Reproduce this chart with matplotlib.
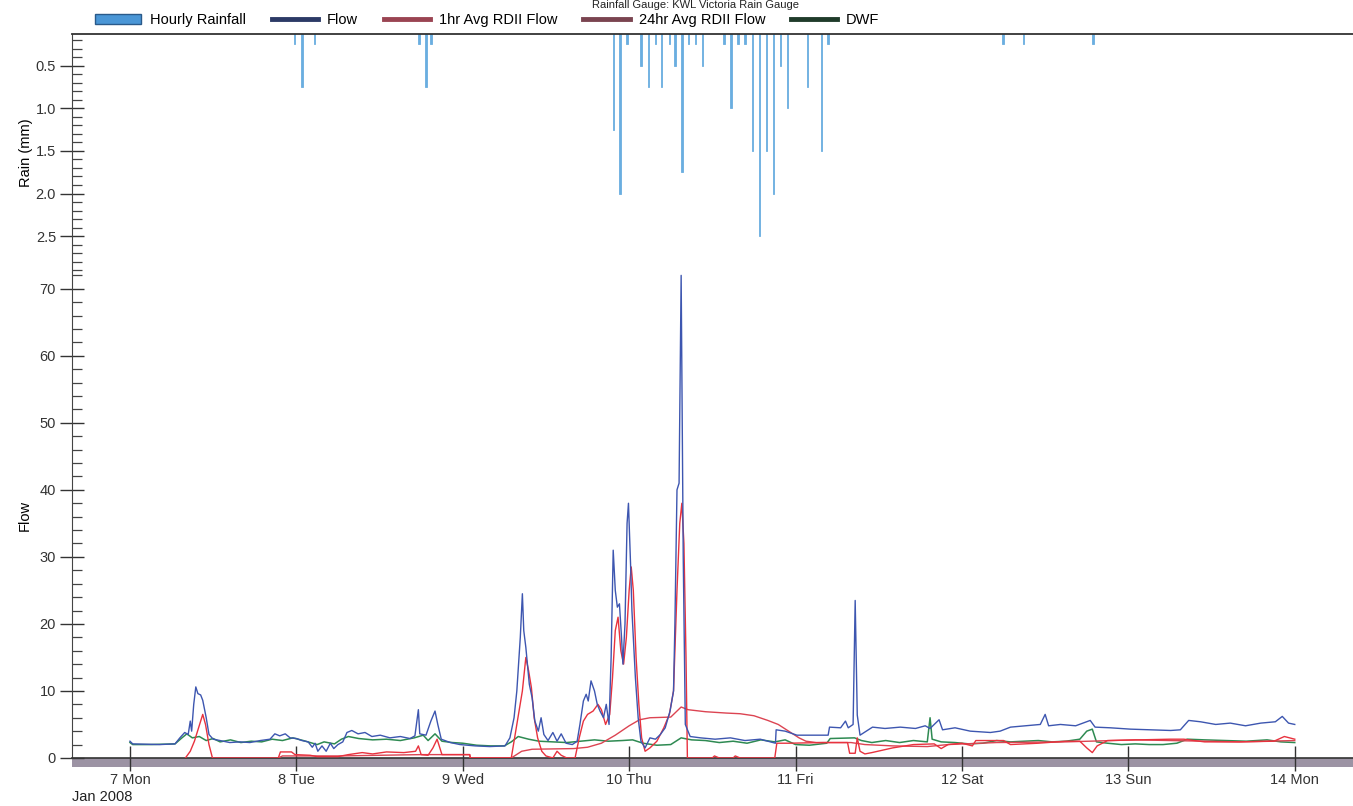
import numpy as np
import matplotlib.pyplot as plt
from matplotlib.patches import Patch, Rectangle
from matplotlib.lines import Line2D
from matplotlib.ticker import MultipleLocator

plt.rcParams['font.family'] = ['Liberation Sans', 'DejaVu Sans']

# time axis: hours since 7 Jan 2008 00:00
day_ticks = [0, 24, 48, 72, 96, 120, 144, 168]
day_labels = ['7 Mon', '8 Tue', '9 Wed', '10 Thu', '11 Fri', '12 Sat', '13 Sun', '14 Mon']

# hourly rainfall (mm)
rain_hours = [23.7, 24.8, 26.6, 41.7, 42.7, 43.4,
              69.7, 70.7, 71.7, 73.7, 74.8, 75.8, 76.7, 77.8, 78.6, 79.6, 80.6,
              81.6, 82.6, 85.7, 86.7, 87.7, 88.7, 89.8, 90.8, 91.8, 92.8, 93.8,
              94.8, 97.7, 99.7, 100.7, 125.9, 128.9, 138.9]
rain_mm = [0.25, 0.75, 0.25, 0.25, 0.75, 0.25,
           1.25, 2.0, 0.25, 0.5, 0.75, 0.25, 0.75, 0.25, 0.5, 1.75, 0.25,
           0.25, 0.5, 0.25, 1.0, 0.25, 0.25, 1.5, 2.5, 1.5, 2.0, 0.5,
           1.0, 0.75, 1.5, 0.25, 0.25, 0.25, 0.25]

flow_t = [0, 0.4, 4.3, 6.5, 7.2, 7.9, 8.4, 8.7, 8.9, 9.2, 9.5, 9.8, 10.2, 10.5, 11.0, 11.4,
          12.0, 13.0, 14.4, 15.9, 17.3, 18.8, 20.2, 20.9, 21.6, 22.4, 23.1, 24.0, 24.8,
          25.7, 26.3, 26.7, 27.1, 27.7, 28.3, 28.9, 29.4, 30.0, 30.7, 31.3, 32.0, 32.9,
          33.9, 34.9, 36.1, 37.5, 39.0, 40.4, 41.1, 41.6, 41.8, 42.7, 43.4, 44.0, 44.4,
          44.9, 46.2, 47.6, 49.8, 51.9, 54.1, 54.8, 55.4, 55.8, 56.3, 56.6, 56.8, 57.1,
          57.6, 58.0, 58.4, 58.9, 59.3, 59.7, 60.3, 61.0, 61.6, 62.2, 62.9, 63.8, 64.5,
          64.9, 65.4, 65.8, 66.1, 66.5, 67.0, 67.4, 67.8, 68.3, 68.7, 69.1, 69.4, 69.7,
          70.0, 70.3, 70.6, 70.9, 71.1, 71.4, 71.7, 71.9, 72.2, 72.4, 72.9, 73.3, 73.7,
          74.3, 75.0, 75.8, 76.5, 77.2, 77.9, 78.4, 78.6, 78.9, 79.2, 79.5, 79.8, 80.1,
          80.8, 82.3, 84.4, 86.6, 88.7, 90.9, 93.1, 93.2, 94.5, 96.2, 98.1, 100.7, 100.9,
          102.5, 103.2, 103.6, 104.3, 104.6, 104.9, 105.3, 106.2, 107.1, 108.9, 111.1,
          113.3, 114.7, 115.4, 116.7, 117.2, 119.0, 121.2, 124.1, 125.5, 127.0, 129.1,
          131.3, 132.0, 132.5, 134.2, 136.4, 138.5, 139.2, 141.4, 144.3, 147.2, 150.1,
          151.5, 152.7, 154.4, 156.6, 158.7, 160.9, 163.1, 165.2, 166.2, 167.1, 168.0]
flow_v = [2.5, 2.1, 2.0, 2.1, 3.0, 3.8, 3.5, 5.5, 4.0, 8.0, 10.6, 9.6, 9.4, 8.6, 6.0, 3.5,
          2.8, 2.6, 2.3, 2.4, 2.3, 2.6, 2.8, 3.6, 3.3, 3.6, 3.0, 2.9, 2.6,
          2.4, 1.6, 2.2, 1.0, 1.8, 1.0, 2.2, 1.4, 2.0, 2.4, 3.8, 4.1, 3.6,
          3.8, 3.2, 3.4, 3.0, 3.2, 2.9, 3.3, 7.2, 3.6, 3.4, 5.5, 7.0, 5.0,
          2.8, 2.3, 2.0, 1.8, 1.7, 1.8, 3.0, 6.0, 10.0, 18.0, 24.5, 19.0, 16.5,
          11.0, 9.0, 5.5, 4.0, 6.0, 3.5, 2.6, 3.8, 2.5, 3.6, 2.2, 2.0, 2.5,
          5.0, 8.5, 9.5, 8.5, 11.5, 10.0, 8.0, 7.0, 6.0, 8.0, 5.0, 15.0, 31.0,
          25.0, 22.5, 23.0, 18.0, 14.0, 20.0, 35.0, 38.0, 29.0, 22.0, 12.0, 6.0, 2.5,
          1.5, 3.0, 2.8, 3.5, 4.5, 7.0, 10.0, 20.0, 40.0, 41.0, 72.0, 30.0, 5.0,
          3.2, 3.0, 2.8, 3.0, 2.6, 2.8, 2.2, 4.2, 4.0, 3.4, 3.4, 3.4, 4.6,
          4.5, 5.5, 4.5, 5.0, 23.5, 6.4, 3.4, 4.0, 4.6, 4.4, 4.6,
          4.4, 4.8, 4.4, 5.7, 4.2, 4.5, 4.0, 3.8, 4.0, 4.6, 4.8,
          5.0, 6.5, 4.8, 5.0, 4.8, 5.6, 4.6, 4.5, 4.3, 4.2, 4.1,
          4.2, 5.6, 5.4, 5.0, 5.2, 4.8, 5.2, 5.4, 6.2, 5.2, 5.0]

rdii1_t = [8.0, 8.7, 9.3, 9.9, 10.5, 10.9, 11.4, 11.9, 21.4, 21.7, 23.3, 23.8, 26.0, 27.0,
           30.0, 31.5, 33.5, 35.0, 37.0, 39.5, 41.2, 41.6, 42.0, 43.0, 43.7, 44.3, 45.0,
           49.0, 49.1, 55.0, 55.8, 56.6, 57.1, 57.5, 57.9, 58.3, 58.8, 59.4, 60.0, 61.0,
           61.6, 62.2, 63.0, 64.2, 64.8, 65.4, 66.0, 66.8, 67.5, 68.0, 68.6, 69.2, 69.6,
           70.0, 70.4, 70.8, 71.2, 71.6, 72.0, 72.3, 72.6, 73.0, 73.4, 73.8, 74.3, 75.0,
           76.0, 77.0, 77.8, 78.4, 78.9, 79.3, 79.6, 79.9, 80.2, 80.4, 84.0, 84.3, 85.0,
           87.0, 87.3, 88.0, 93.0, 93.3, 95.0, 100.0, 103.5, 103.8, 104.6, 104.9, 105.3,
           106.0, 107.0, 110.0, 113.0, 116.0, 117.0, 118.0, 120.0, 121.5, 122.0, 126.0,
           127.0, 131.0, 135.0, 137.0, 138.0, 138.8, 139.5, 141.0, 150.0, 152.0, 155.0,
           160.0, 165.0, 166.5, 168.0]
rdii1_v = [0.0, 1.0, 2.5, 4.5, 6.5, 5.0, 2.0, 0.0, 0.0, 0.9, 0.9, 0.5, 0.4, 0.2,
           0.2, 0.5, 0.8, 0.6, 0.9, 0.8, 1.0, 1.8, 0.5, 0.4, 1.5, 2.8, 0.5,
           0.5, 0.0, 0.0, 5.0, 10.0, 15.0, 13.0, 10.5, 6.0, 3.0, 1.0, 0.3, 0.0,
           1.0, 0.4, 0.0, 0.0, 3.0, 5.5, 6.5, 7.0, 8.0, 7.2, 5.0, 6.5, 12.0,
           19.0, 21.0, 16.0, 14.0, 18.0, 25.0, 28.5, 25.0, 15.0, 8.0, 3.0, 1.0, 1.5,
           2.5, 4.5, 6.5, 10.0, 25.0, 35.0, 38.0, 32.0, 15.0, 0.0, 0.0, 0.3, 0.0,
           0.0, 0.3, 0.0, 0.0, 2.2, 2.2, 2.3, 2.3, 0.7, 0.7, 3.0, 1.0,
           0.6, 0.8, 1.5, 2.0, 2.1, 1.4, 2.0, 2.2, 1.8, 2.6, 2.6,
           2.0, 2.2, 2.5, 2.5, 1.5, 0.8, 1.8, 2.6, 2.8, 2.8, 2.4,
           2.4, 2.5, 3.2, 2.8]

rdii24_t = [21.4, 22.0, 30.0, 36.0, 42.0, 49.0, 49.1, 55.0, 56.5, 58.0, 64.0, 66.0, 68.0,
            70.0, 72.0, 73.5, 75.0, 78.0, 79.5, 80.5, 83.0, 86.0, 88.0, 90.0, 92.0, 93.5,
            95.0, 96.5, 97.5, 99.0, 104.0, 106.0, 110.0, 115.0, 118.0, 125.0, 135.0,
            145.0, 150.0, 160.0, 168.0]
rdii24_v = [0.0, 0.3, 0.3, 0.4, 0.5, 0.5, 0.0, 0.0, 1.0, 1.3, 1.4, 1.6, 2.2,
            3.4, 4.8, 5.7, 6.0, 6.1, 7.6, 7.2, 6.9, 6.7, 6.6, 6.3, 5.6, 5.0,
            4.0, 3.0, 2.5, 2.3, 2.3, 2.0, 1.8, 1.7, 2.0, 2.3, 2.4,
            2.7, 2.6, 2.4, 2.6]

dwf_t = [0, 0.4, 3, 6.5, 7.5, 8.2, 9.0, 10.0, 11.0, 12.0, 13.0, 14.5, 16.0, 17.5, 19.0,
         20.5, 22.0, 23.5, 25.0, 26.0, 27.0, 28.0, 29.5, 30.5, 31.5, 33.0, 35.0, 37.0,
         39.0, 41.0, 42.3, 43.0, 44.0, 45.0, 46.5, 48.0, 50.0, 52.0, 54.0, 55.0, 56.0,
         57.5, 59.0, 61.0, 63.0, 65.0, 67.0, 69.0, 71.0, 72.5, 74.0, 76.0, 78.0, 79.5,
         81.0, 83.0, 85.0, 87.0, 89.0, 91.0, 93.0, 94.5, 96.0, 98.0, 100.5, 101.0, 104.5,
         105.5, 107.0, 109.0, 111.0, 113.0, 115.0, 115.4, 115.7, 117.0, 119.0, 121.0,
         123.0, 125.0, 127.0, 129.0, 131.0, 133.0, 135.0, 137.0, 138.0, 138.8, 139.4,
         141.0, 143.0, 145.0, 147.0, 149.0, 151.0, 152.5, 155.0, 158.0, 161.0, 164.0,
         166.0, 168.0]
dwf_v = [2.3, 2.0, 2.0, 2.1, 3.0, 3.6, 3.0, 3.2, 2.6, 2.9, 2.4, 2.7, 2.3, 2.5, 2.4,
         2.8, 2.6, 3.0, 2.6, 2.3, 2.0, 2.4, 2.1, 2.8, 3.2, 2.9, 2.7, 2.8,
         2.6, 3.0, 3.4, 2.6, 3.6, 2.5, 2.3, 2.2, 1.9, 1.8, 1.8, 2.4, 3.2,
         2.8, 2.5, 2.4, 2.3, 2.5, 2.7, 2.5, 2.6, 2.7, 2.2, 1.9, 2.0, 3.0,
         2.7, 2.6, 2.3, 2.5, 2.2, 2.7, 2.4, 2.7, 2.0, 1.9, 2.2, 2.9, 3.0,
         2.6, 2.3, 2.6, 2.3, 2.6, 2.4, 6.0, 2.8, 2.4, 2.3, 2.1,
         2.2, 2.6, 2.4, 2.5, 2.6, 2.4, 2.5, 2.8, 4.0, 4.3, 2.4,
         2.2, 2.0, 2.1, 2.0, 2.0, 2.2, 2.8, 2.7, 2.6, 2.5, 2.7,
         2.4, 2.3]

c_rain = '#6aaee0'
c_flow = '#3d56b0'
c_rdii1 = '#e8323e'
c_rdii24 = '#dc4452'
c_dwf = '#2e8a52'
fs = 10.5

fig = plt.figure(figsize=(13.53, 8.06), dpi=100)
ax_r = fig.add_axes([0.0532, 0.6625, 0.9468, 0.2953])
ax = fig.add_axes([0.0532, 0.0596, 0.9468, 0.6029], sharex=ax_r)

xmin, xmax = -8.36, 176.4

# rainfall panel (inverted)
ax_r.bar(rain_hours, rain_mm, width=0.2, color=c_rain, edgecolor=c_rain, linewidth=0.6)
ax_r.set_ylim(2.92, 0.13)
ax_r.yaxis.set_minor_locator(MultipleLocator(0.1))
ax_r.set_yticks([0.5, 1.0, 1.5, 2.0, 2.5])
ax_r.set_yticklabels(['0.5', '1.0', '1.5', '2.0', '2.5'])
ax_r.set_ylabel('Rain (mm)', fontsize=fs, labelpad=2)
ax_r.tick_params(axis='x', which='both', bottom=False, labelbottom=False)
ax_r.spines['bottom'].set_visible(False)
ax_r.spines['right'].set_visible(False)
ax_r.spines['top'].set_linewidth(1.3)
ax_r.spines['top'].set_color('#333333')

# flow panel
ax.plot(dwf_t, dwf_v, color=c_dwf, lw=1.1, zorder=3)
ax.plot(rdii24_t, rdii24_v, color=c_rdii24, lw=1.0, zorder=4)
ax.plot(rdii1_t, rdii1_v, color=c_rdii1, lw=1.0, zorder=5)
ax.plot(flow_t, flow_v, color=c_flow, lw=1.0, zorder=6)
ax.set_ylim(0, 72.5)
ax.set_xlim(xmin, xmax)
ax.yaxis.set_major_locator(MultipleLocator(10))
ax.yaxis.set_minor_locator(MultipleLocator(2))
ax.set_ylabel('Flow', fontsize=fs, labelpad=6)
ax.set_xticks(day_ticks)
ax.set_xticklabels(day_labels)
ax.spines['top'].set_visible(False)
ax.spines['right'].set_visible(False)
ax.spines['bottom'].set_color('#333333')
ax.spines['bottom'].set_linewidth(1.2)

for a in (ax_r, ax):
    a.spines['left'].set_color('#444444')
    a.tick_params(axis='y', which='major', direction='inout', length=17, width=1.0,
                  labelsize=fs, colors='#333333', pad=3)
    a.tick_params(axis='y', which='minor', direction='in', length=7, width=0.9,
                  colors='#444444')
ax.tick_params(axis='x', which='major', direction='inout', length=18, width=1.0,
               labelsize=fs, colors='#333333', pad=2)

# shaded base band under the x axis
ax.add_patch(Rectangle((0, -0.018), 1, 0.018, transform=ax.transAxes,
                       facecolor='#9c93a4', edgecolor='none', clip_on=False, zorder=1))

fig.text(0.0755, 0.011, 'Jan 2008', fontsize=fs, ha='center', va='center', color='#222222')
fig.text(0.514, 0.9995, 'Rainfall Gauge: KWL Victoria Rain Gauge', fontsize=8,
         ha='center', va='top', color='#222222')

handles = [
    Patch(facecolor='#4a96d6', edgecolor='#2a5a8a'),
    Line2D([], [], color='#2c3a66', lw=3.5),
    Line2D([], [], color='#9a4452', lw=3.5),
    Line2D([], [], color='#7a4450', lw=3.5),
    Line2D([], [], color='#1f3b2a', lw=3.5),
]
labels = ['Hourly Rainfall', 'Flow', '1hr Avg RDII Flow', '24hr Avg RDII Flow', 'DWF']
fig.legend(handles, labels, loc='center', bbox_to_anchor=(0.36, 0.975), ncol=5,
           frameon=False, fontsize=fs, handlelength=3.2, handletextpad=0.6,
           columnspacing=1.75, borderaxespad=0, borderpad=0)

fig.savefig('out.png', dpi=100)
